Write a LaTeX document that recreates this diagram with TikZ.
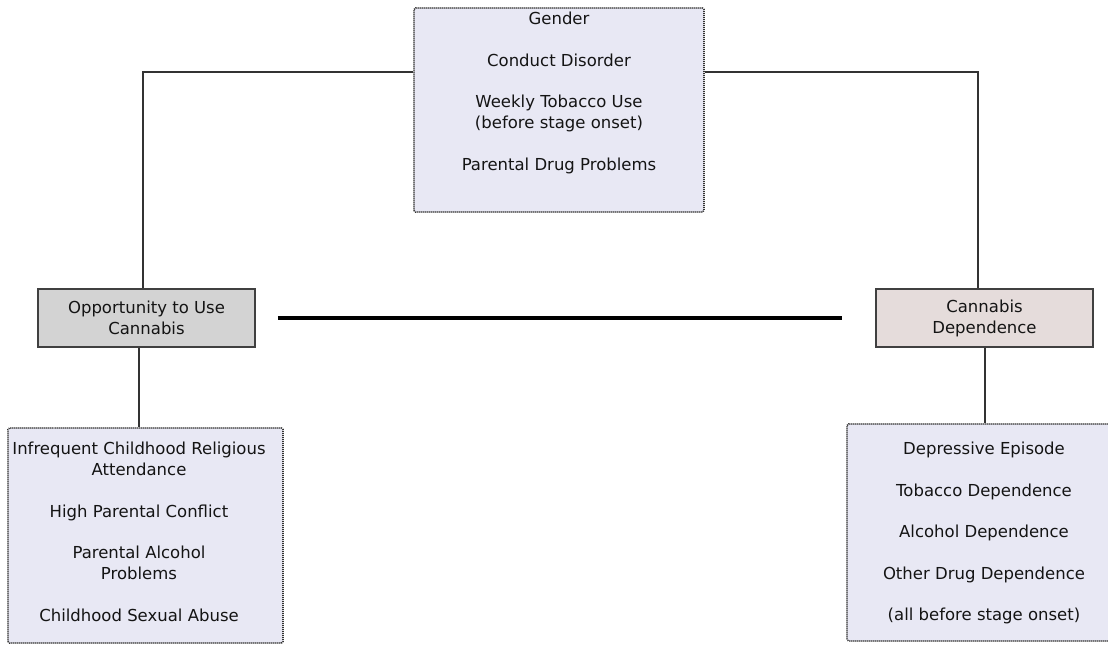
\documentclass[tikz,border=0pt]{standalone}
\usepackage{fontspec}
\setmainfont{DejaVu Sans}
\usetikzlibrary{positioning, calc}
\definecolor{Fac-bg}{RGB}{232,232,244}
\definecolor{Opp-bg}{RGB}{211,211,211}
\definecolor{Dep-bg}{RGB}{229,220,219}
\definecolor{Ink}{RGB}{20,20,20}
\newcommand{\lblsize}{\fontsize{16.5}{21}\selectfont}

\begin{document}
\begin{tikzpicture}[x=1pt, y=-1pt]
        \tikzset{ fac/.style ={draw=black!80, dash pattern=on 1pt off 1pt, line width=1.6pt, rounded corners=1.5pt, fill=Fac-bg, inner sep=0pt } }
        \tikzset{ ftxt/.style ={anchor=north, inner sep=0pt, align=center, text=Ink, font=\lblsize } }
        \tikzset{ stg/.style ={draw=black!75, line width=1.5pt, minimum width=217pt, minimum height=58pt, inner sep=0pt, align=center, text=Ink, font=\lblsize } }

        \tikzstyle{lnk}=[draw=black!80, line width=1.6pt]
        \tikzstyle{bond}=[draw=black, line width=3.5pt]

        \newcommand\gap{20.5pt}

        \clip (0,0) rectangle (1108,645);

        % covariate boxes
        \node[fac, minimum width=290pt, minimum height=204pt] (top_box) at (559, 110) {};
        \node[ftxt] (top_txt) at (559, 12) {Gender\\[\gap]Conduct Disorder\\[\gap]Weekly Tobacco Use\\(before stage onset)\\[\gap]Parental Drug Problems};

        \node[fac, minimum width=275pt, minimum height=215pt] (l_box) at (145.5, 535.5) {};
        \node[ftxt] (l_txt) at (139, 442) {Infrequent Childhood Religious\\Attendance\\[\gap]High Parental Conflict\\[\gap]Parental Alcohol\\Problems\\[\gap]Childhood Sexual Abuse};

        \node[fac, minimum width=268pt, minimum height=217pt] (r_box) at (981, 532.5) {};
        \node[ftxt] (r_txt) at (984, 442) {Depressive Episode\\[\gap]Tobacco Dependence\\[\gap]Alcohol Dependence\\[\gap]Other Drug Dependence\\[\gap](all before stage onset)};

        % stages
        \node[stg, fill=Opp-bg] (opp) at (146.5, 318) {Opportunity to Use\\Cannabis};
        \node[stg, fill=Dep-bg] (dep) at (984.5, 318) {Cannabis\\Dependence};

        \draw[lnk] (top_box.west |- 0,72) -| ([xshift=-3.5pt]opp.north);
        \draw[lnk] (top_box.east |- 0,72) -| ([xshift=-6.5pt]dep.north);
        \draw[lnk] ([xshift=-7.5pt]opp.south) -- ([xshift=-6.5pt]l_box.north);
        \draw[lnk] ([xshift=0.5pt]dep.south) -- ([xshift=0.5pt]dep.south |- r_box.north);
        \draw[bond] ([xshift=22pt]opp.east) -- ([xshift=-33pt]dep.west);
      \end{tikzpicture}
\end{document}
